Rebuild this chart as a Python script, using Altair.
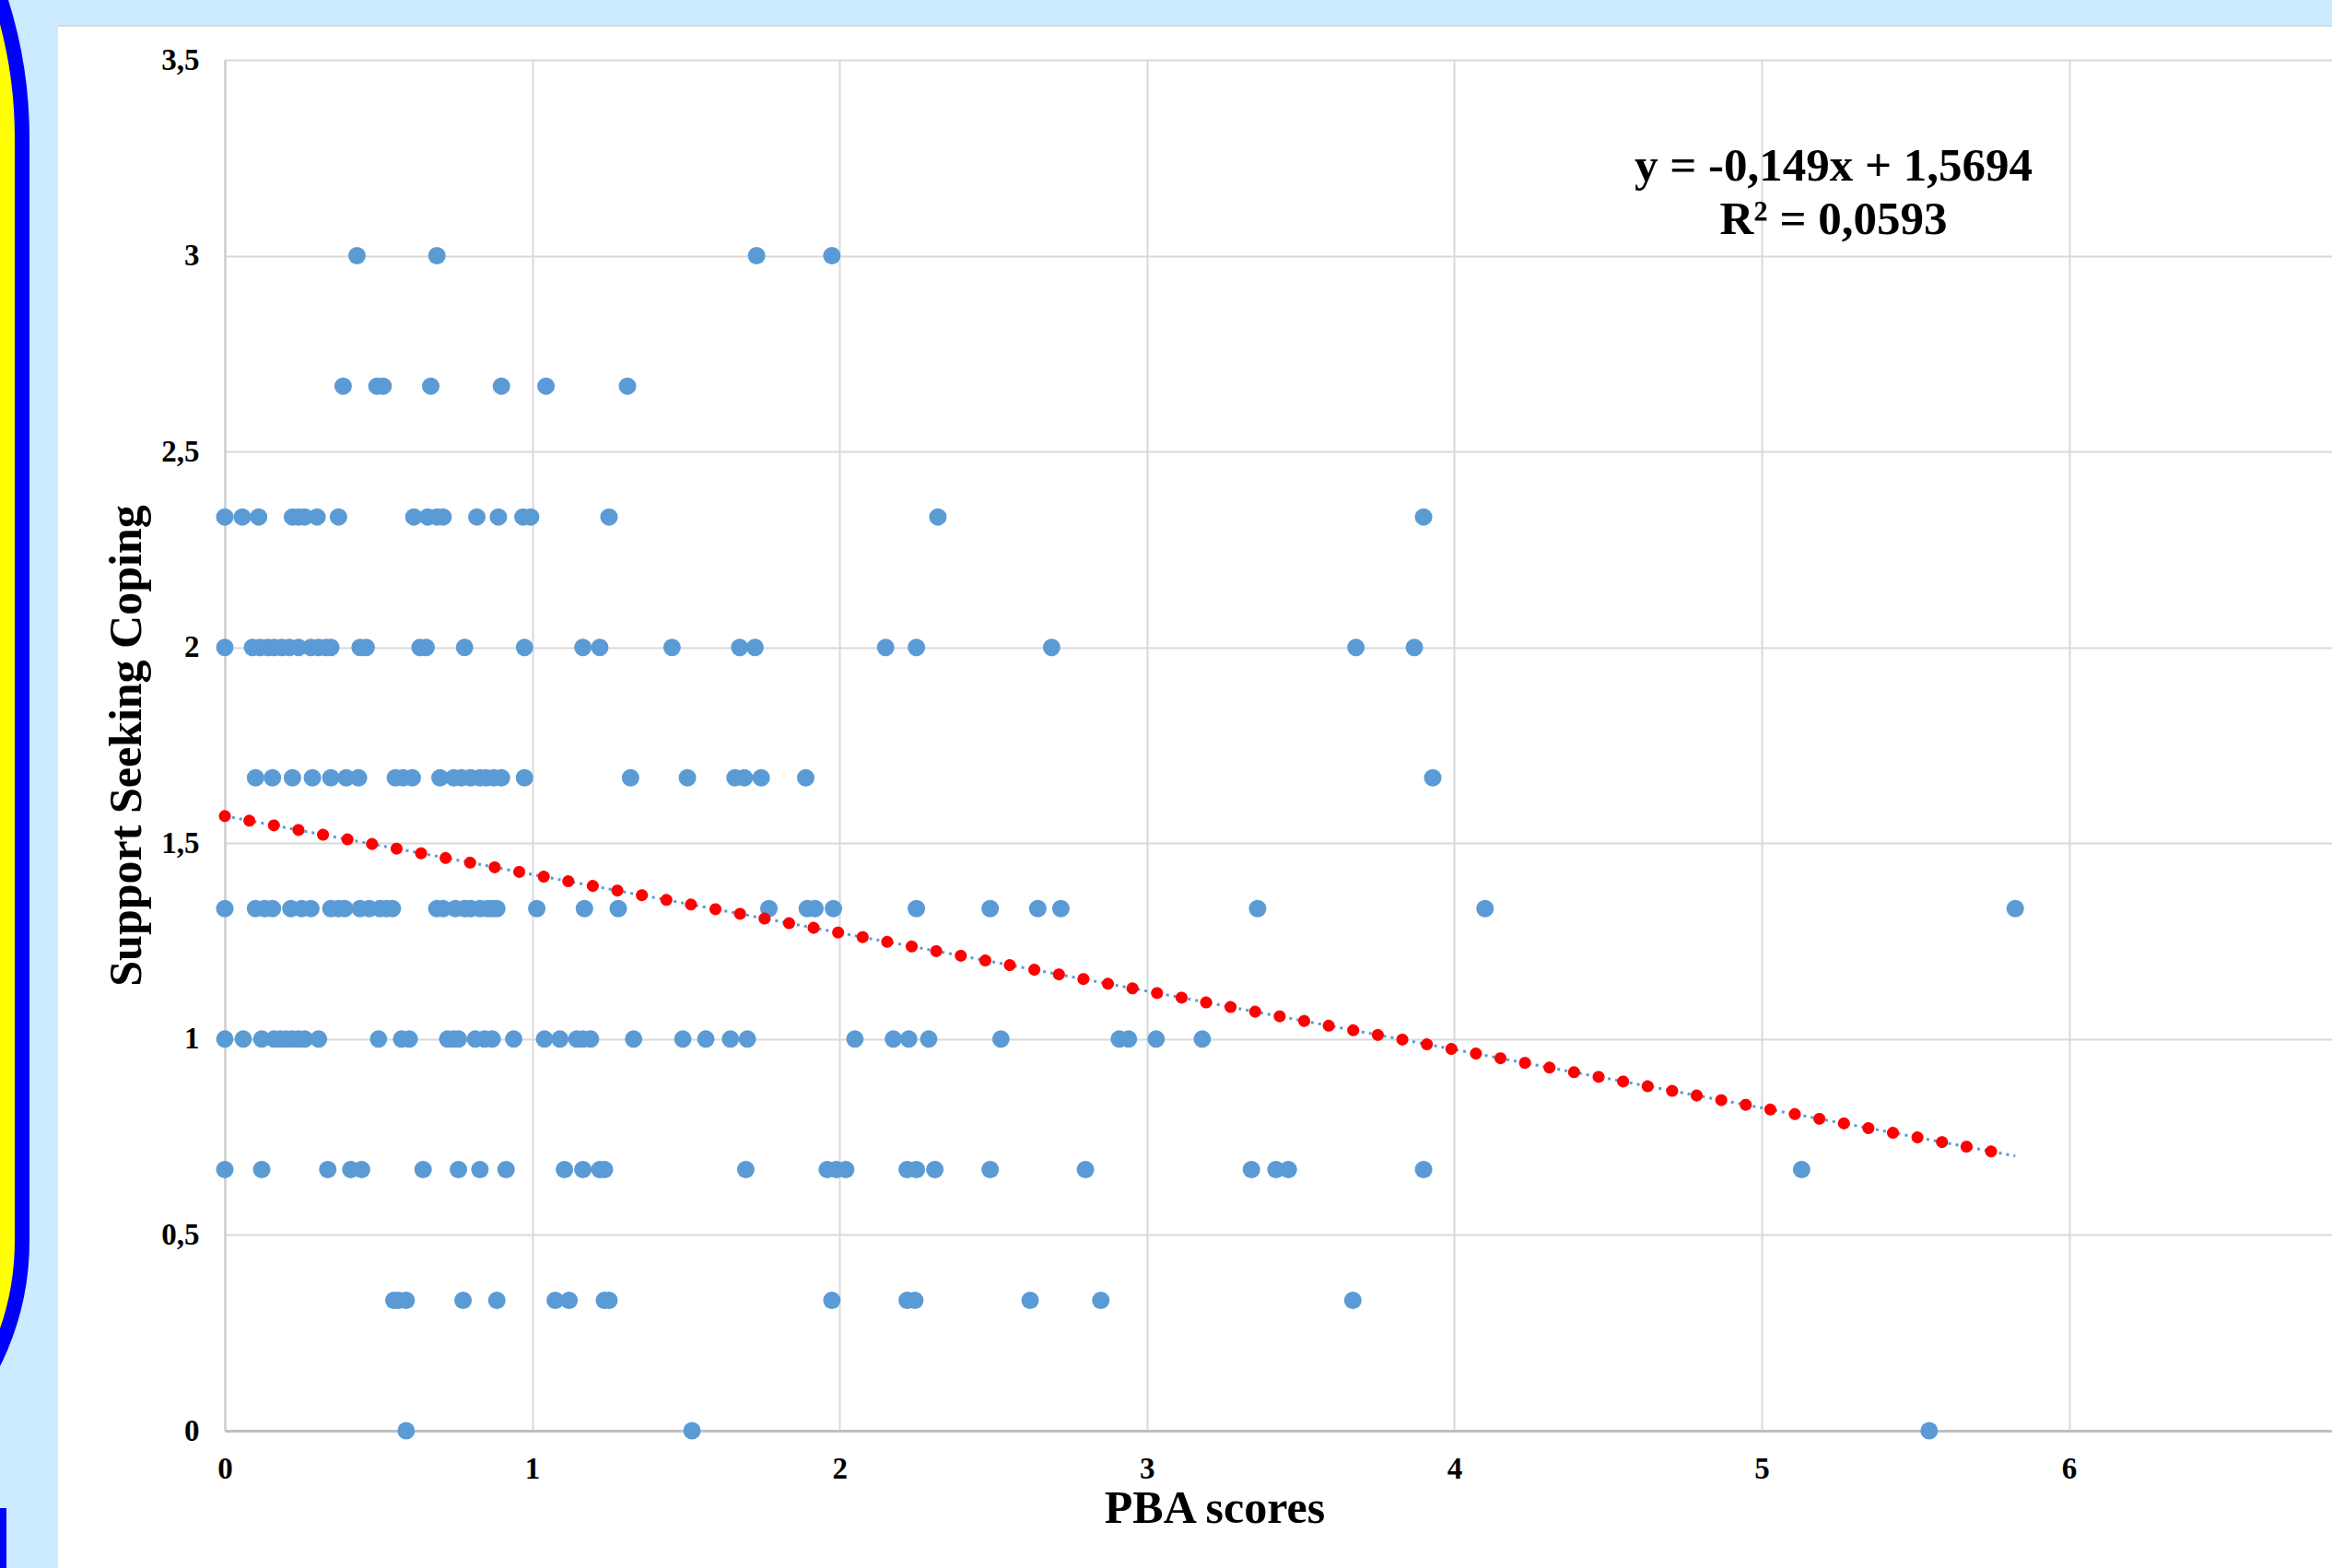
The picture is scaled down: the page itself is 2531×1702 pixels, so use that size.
import altair as alt
import pandas as pd

# ---- data (PBA score values at each coping level) ----
coping_levels = [3.0, 2.667, 2.333, 2.0, 1.667, 1.333, 1.0, 0.667, 0.333, 0.0]

pba_at_3_000 = [0.43, 0.69, 1.73, 1.975]
pba_at_2_667 = [0.385, 0.495, 0.515, 0.67, 0.90, 1.045, 1.31]
pba_at_2_333 = [0, 0.057, 0.11, 0.22, 0.24, 0.26, 0.30, 0.37, 0.615, 0.66, 0.69,
                0.71, 0.82, 0.89, 0.97, 0.995, 1.25, 2.32, 3.90]
pba_at_2_000 = [0, 0.09, 0.115, 0.14, 0.16, 0.185, 0.21, 0.24, 0.28, 0.305, 0.33,
                0.345, 0.44, 0.46, 0.635, 0.655, 0.78, 0.975, 1.165, 1.22, 1.455,
                1.675, 1.725, 2.15, 2.25, 2.69, 3.68, 3.87]
pba_at_1_667 = [0.10, 0.155, 0.22, 0.285, 0.345, 0.395, 0.435, 0.555, 0.58, 0.61,
                0.70, 0.745, 0.77, 0.80, 0.83, 0.85, 0.875, 0.90, 0.975, 1.32,
                1.505, 1.66, 1.69, 1.745, 1.89, 3.93]
pba_at_1_333 = [0, 0.10, 0.13, 0.155, 0.215, 0.25, 0.28, 0.345, 0.37, 0.39, 0.44,
                0.47, 0.505, 0.525, 0.545, 0.69, 0.71, 0.75, 0.78, 0.80, 0.83,
                0.855, 0.87, 0.885, 1.015, 1.17, 1.28, 1.77, 1.895, 1.92, 1.98,
                2.25, 2.49, 2.645, 2.72, 3.36, 4.10, 5.825]
pba_at_1_000 = [0, 0.06, 0.12, 0.16, 0.18, 0.20, 0.22, 0.24, 0.26, 0.305, 0.50,
                0.575, 0.60, 0.725, 0.745, 0.76, 0.815, 0.845, 0.87, 0.94, 1.04,
                1.09, 1.145, 1.165, 1.19, 1.33, 1.49, 1.565, 1.645, 1.70, 2.05,
                2.175, 2.225, 2.29, 2.525, 2.91, 2.94, 3.03, 3.18]
pba_at_0_667 = [0, 0.12, 0.335, 0.41, 0.445, 0.645, 0.76, 0.83, 0.915, 1.105,
                1.165, 1.22, 1.235, 1.695, 1.96, 1.99, 2.02, 2.22, 2.25, 2.31,
                2.49, 2.80, 3.34, 3.42, 3.46, 3.90, 5.13]
pba_at_0_333 = [0.55, 0.565, 0.59, 0.775, 0.885, 1.075, 1.12, 1.235, 1.25, 1.975,
                2.22, 2.245, 2.62, 2.85, 3.67]
pba_at_0_000 = [0.59, 1.52, 5.545]

pba_lists = [pba_at_3_000, pba_at_2_667, pba_at_2_333, pba_at_2_000, pba_at_1_667,
             pba_at_1_333, pba_at_1_000, pba_at_0_667, pba_at_0_333, pba_at_0_000]

slope = -0.149
intercept = 1.5694
r_squared = 0.0593

x_ticks = [0, 1, 2, 3, 4, 5, 6]
y_ticks = [0, 0.5, 1, 1.5, 2, 2.5, 3, 3.5]

x_title = "PBA scores"
y_title = "Support Seeking Coping"

# ---- tables ----
rows = []
for lvl, xs in zip(coping_levels, pba_lists):
    rows += [{"pba": x, "coping": lvl} for x in xs]
df = pd.DataFrame(rows)

trend = pd.DataFrame({"pba": [0.0, float(df["pba"].max())]})

eq_lines = [
    f"y = {slope}x + {intercept}".replace(".", ","),
    f"R\u00b2 = {r_squared}".replace(".", ","),
]

# ---- layout (pixels) ----
PAD_L, PAD_T, PAD_R, PAD_B = 244, 65, 0, 149
W, H = 2531 - PAD_L - PAD_R, 1702 - PAD_T - PAD_B
X_MAX = W / 333.6

FONT = "Liberation Serif"
BLUE_PT = "#5B9BD5"
GRID = "#d9d9d9"
SKY = "#CCEBFF"

one = pd.DataFrame({"k": [0]})

x_scale = alt.Scale(domain=[0, X_MAX], nice=False, zero=False)
y_scale = alt.Scale(domain=[0, 3.5], nice=False, zero=False)

label_expr = "replace(format(datum.value, '~g'), '.', ',')"

x_axis = alt.Axis(
    values=x_ticks, title=x_title, grid=True, gridColor=GRID, gridWidth=2,
    domain=True, domainColor="#bfbfbf", domainWidth=3, ticks=False, tickSize=0,
    labelFont=FONT, labelFontWeight="bold", labelFontSize=33, labelColor="black",
    labelPadding=51, labelBaseline="alphabetic", labelFlush=False,
    labelExpr=label_expr,
    titleFont=FONT, titleFontWeight="bold", titleFontSize=50, titleColor="black",
    titleX=1074, titleY=99, titleBaseline="alphabetic", titleAlign="center",
    titleAnchor="start",
)
y_axis = alt.Axis(
    values=y_ticks, title=y_title, grid=True, gridColor=GRID, gridWidth=2,
    domain=True, domainColor="#d0d0d0", domainWidth=2.5, ticks=False, tickSize=0,
    labelFont=FONT, labelFontWeight="bold", labelFontSize=33, labelColor="black",
    labelPadding=28, labelExpr=label_expr,
    titleFont=FONT, titleFontWeight="bold", titleFontSize=50, titleColor="black",
    titleX=-107, titleY=H / 2, titleBaseline="middle", titleAlign="center",
    titleAngle=270, titleAnchor="start",
)

# decorations outside the plot area
sky_left = alt.Chart(one).mark_rect(color=SKY).encode(
    x=alt.value(-PAD_L), x2=alt.value(63 - PAD_L),
    y=alt.value(-PAD_T), y2=alt.value(1702 - PAD_T))
sky_top = alt.Chart(one).mark_rect(color=SKY).encode(
    x=alt.value(-PAD_L), x2=alt.value(W),
    y=alt.value(-PAD_T), y2=alt.value(27 - PAD_T))
frame = alt.Chart(one).mark_rect(
    fill="#FFFF00", stroke="#0000FF", strokeWidth=16,
    cornerRadiusTopRight=490, cornerRadiusBottomRight=297,
).encode(
    x=alt.value(-976 - PAD_L), x2=alt.value(24 - PAD_L),
    y=alt.value(-340 - PAD_T), y2=alt.value(1644 - PAD_T))
bar = alt.Chart(one).mark_rect(color="#0000FF").encode(
    x=alt.value(-PAD_L), x2=alt.value(7 - PAD_L),
    y=alt.value(1637 - PAD_T), y2=alt.value(1702 - PAD_T))
top_border = alt.Chart(one).mark_rule(color=GRID, strokeWidth=2).encode(
    x=alt.value(63 - PAD_L), x2=alt.value(W), y=alt.value(28 - PAD_T))

points = alt.Chart(df).mark_circle(size=361, color=BLUE_PT, opacity=1).encode(
    x=alt.X("pba:Q", scale=x_scale, axis=x_axis),
    y=alt.Y("coping:Q", scale=y_scale, axis=y_axis),
)

trend_base = alt.Chart(trend).transform_calculate(
    fit=f"{slope} * datum.pba + {intercept}"
).encode(
    x=alt.X("pba:Q", scale=x_scale),
    y=alt.Y("fit:Q", scale=y_scale),
)
trend_blue = trend_base.mark_line(color=BLUE_PT, strokeWidth=3, strokeDash=[3, 5])
trend_red = trend_base.mark_line(color="#FF0000", strokeWidth=13,
                                 strokeDash=[0.1, 27], strokeCap="round")

equation = alt.Chart(one).mark_text(
    font=FONT, fontWeight="bold", fontSize=51, align="center",
    baseline="alphabetic", lineHeight=58, color="black",
).encode(x=alt.value(1746), y=alt.value(131), text=alt.value(eq_lines))

chart = alt.layer(
    sky_left, sky_top, frame, bar, top_border,
    points, trend_blue, trend_red, equation,
).properties(
    width=W, height=H,
    autosize=alt.AutoSizeParams(type="none"),
    padding={"left": PAD_L, "top": PAD_T, "right": PAD_R, "bottom": PAD_B},
    background="white",
).configure_view(stroke=None)

chart.save("out.html", embed_options={"renderer": "svg", "actions": False})
